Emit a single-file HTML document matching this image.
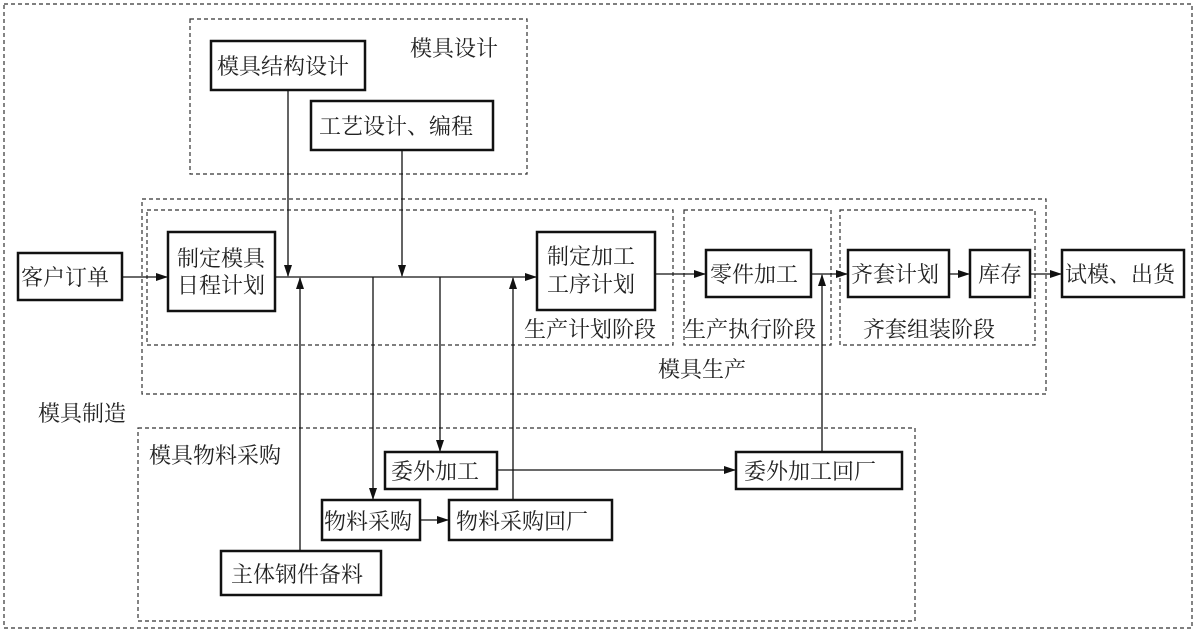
<!DOCTYPE html>
<html><head><meta charset="utf-8"><style>
body{margin:0;background:#fff}
svg text{font-family:"Liberation Serif","Noto Serif CJK SC",serif;font-size:22px;fill:#222}
</style></head><body>
<svg width="1197" height="633" xmlns="http://www.w3.org/2000/svg">
<defs><marker id="a" markerWidth="12" markerHeight="8" refX="11" refY="4" orient="auto" markerUnits="userSpaceOnUse"><path d="M0,0L12,4L0,8z" fill="#111"/></marker></defs>
<g fill="none" stroke="#333" stroke-width="1.2" stroke-dasharray="4,3">
<rect x="4" y="4" width="1188" height="624"/>
<rect x="190" y="19" width="337" height="155"/>
<rect x="142" y="199" width="904" height="195"/>
<rect x="147" y="210" width="526" height="135"/>
<rect x="684" y="210" width="147" height="135"/>
<rect x="840" y="210" width="195" height="135"/>
<rect x="138" y="428" width="777" height="193"/>
</g>
<g fill="#fff" stroke="#111" stroke-width="2.5">
<rect x="211" y="41" width="154" height="49"/>
<rect x="311" y="101" width="182" height="49"/>
<rect x="18" y="253" width="104" height="47"/>
<rect x="168" y="232" width="107" height="79"/>
<rect x="537" y="232" width="118" height="78"/>
<rect x="706" y="250" width="105" height="47"/>
<rect x="848" y="250" width="101" height="47"/>
<rect x="970" y="250" width="60" height="47"/>
<rect x="1062" y="250" width="122" height="47"/>
<rect x="385" y="452" width="112" height="37"/>
<rect x="736" y="452" width="166" height="37"/>
<rect x="322" y="500" width="98" height="40"/>
<rect x="449" y="500" width="163" height="40"/>
<rect x="221" y="551" width="160" height="44"/>
</g>
<g stroke="#111" stroke-width="1.3" fill="none">
<line x1="122" y1="277" x2="167" y2="277" marker-end="url(#a)"/>
<line x1="275" y1="277" x2="536" y2="277" marker-end="url(#a)"/>
<line x1="288" y1="90" x2="288" y2="276" marker-end="url(#a)"/>
<line x1="402" y1="150" x2="402" y2="276" marker-end="url(#a)"/>
<line x1="300" y1="551" x2="300" y2="278" marker-end="url(#a)"/>
<line x1="513" y1="500" x2="513" y2="278" marker-end="url(#a)"/>
<line x1="373" y1="277" x2="373" y2="499" marker-end="url(#a)"/>
<line x1="440" y1="277" x2="440" y2="451" marker-end="url(#a)"/>
<line x1="655" y1="274" x2="705" y2="274" marker-end="url(#a)"/>
<line x1="811" y1="274" x2="847" y2="274" marker-end="url(#a)"/>
<line x1="822" y1="452" x2="822" y2="275" marker-end="url(#a)"/>
<line x1="949" y1="274" x2="969" y2="274" marker-end="url(#a)"/>
<line x1="1030" y1="274" x2="1061" y2="274" marker-end="url(#a)"/>
<line x1="497" y1="470" x2="735" y2="470" marker-end="url(#a)"/>
<line x1="420" y1="520" x2="448" y2="520" marker-end="url(#a)"/>
</g>
<text x="217" y="74">模具结构设计</text>
<text x="319" y="134">工艺设计、编程</text>
<text x="410" y="56">模具设计</text>
<text x="21" y="285">客户订单</text>
<text x="177" y="266">制定模具</text>
<text x="177" y="293">日程计划</text>
<text x="547" y="264">制定加工</text>
<text x="547" y="292">工序计划</text>
<text x="710" y="282">零件加工</text>
<text x="851" y="282">齐套计划</text>
<text x="978" y="282">库存</text>
<text x="1065" y="282">试模、出货</text>
<text x="524" y="337">生产计划阶段</text>
<text x="684" y="337">生产执行阶段</text>
<text x="863" y="337">齐套组装阶段</text>
<text x="658" y="377">模具生产</text>
<text x="38" y="421">模具制造</text>
<text x="149" y="463">模具物料采购</text>
<text x="391" y="479">委外加工</text>
<text x="744" y="479">委外加工回厂</text>
<text x="324" y="529">物料采购</text>
<text x="456" y="529">物料采购回厂</text>
<text x="231" y="582">主体钢件备料</text>
</svg>
</body></html>
